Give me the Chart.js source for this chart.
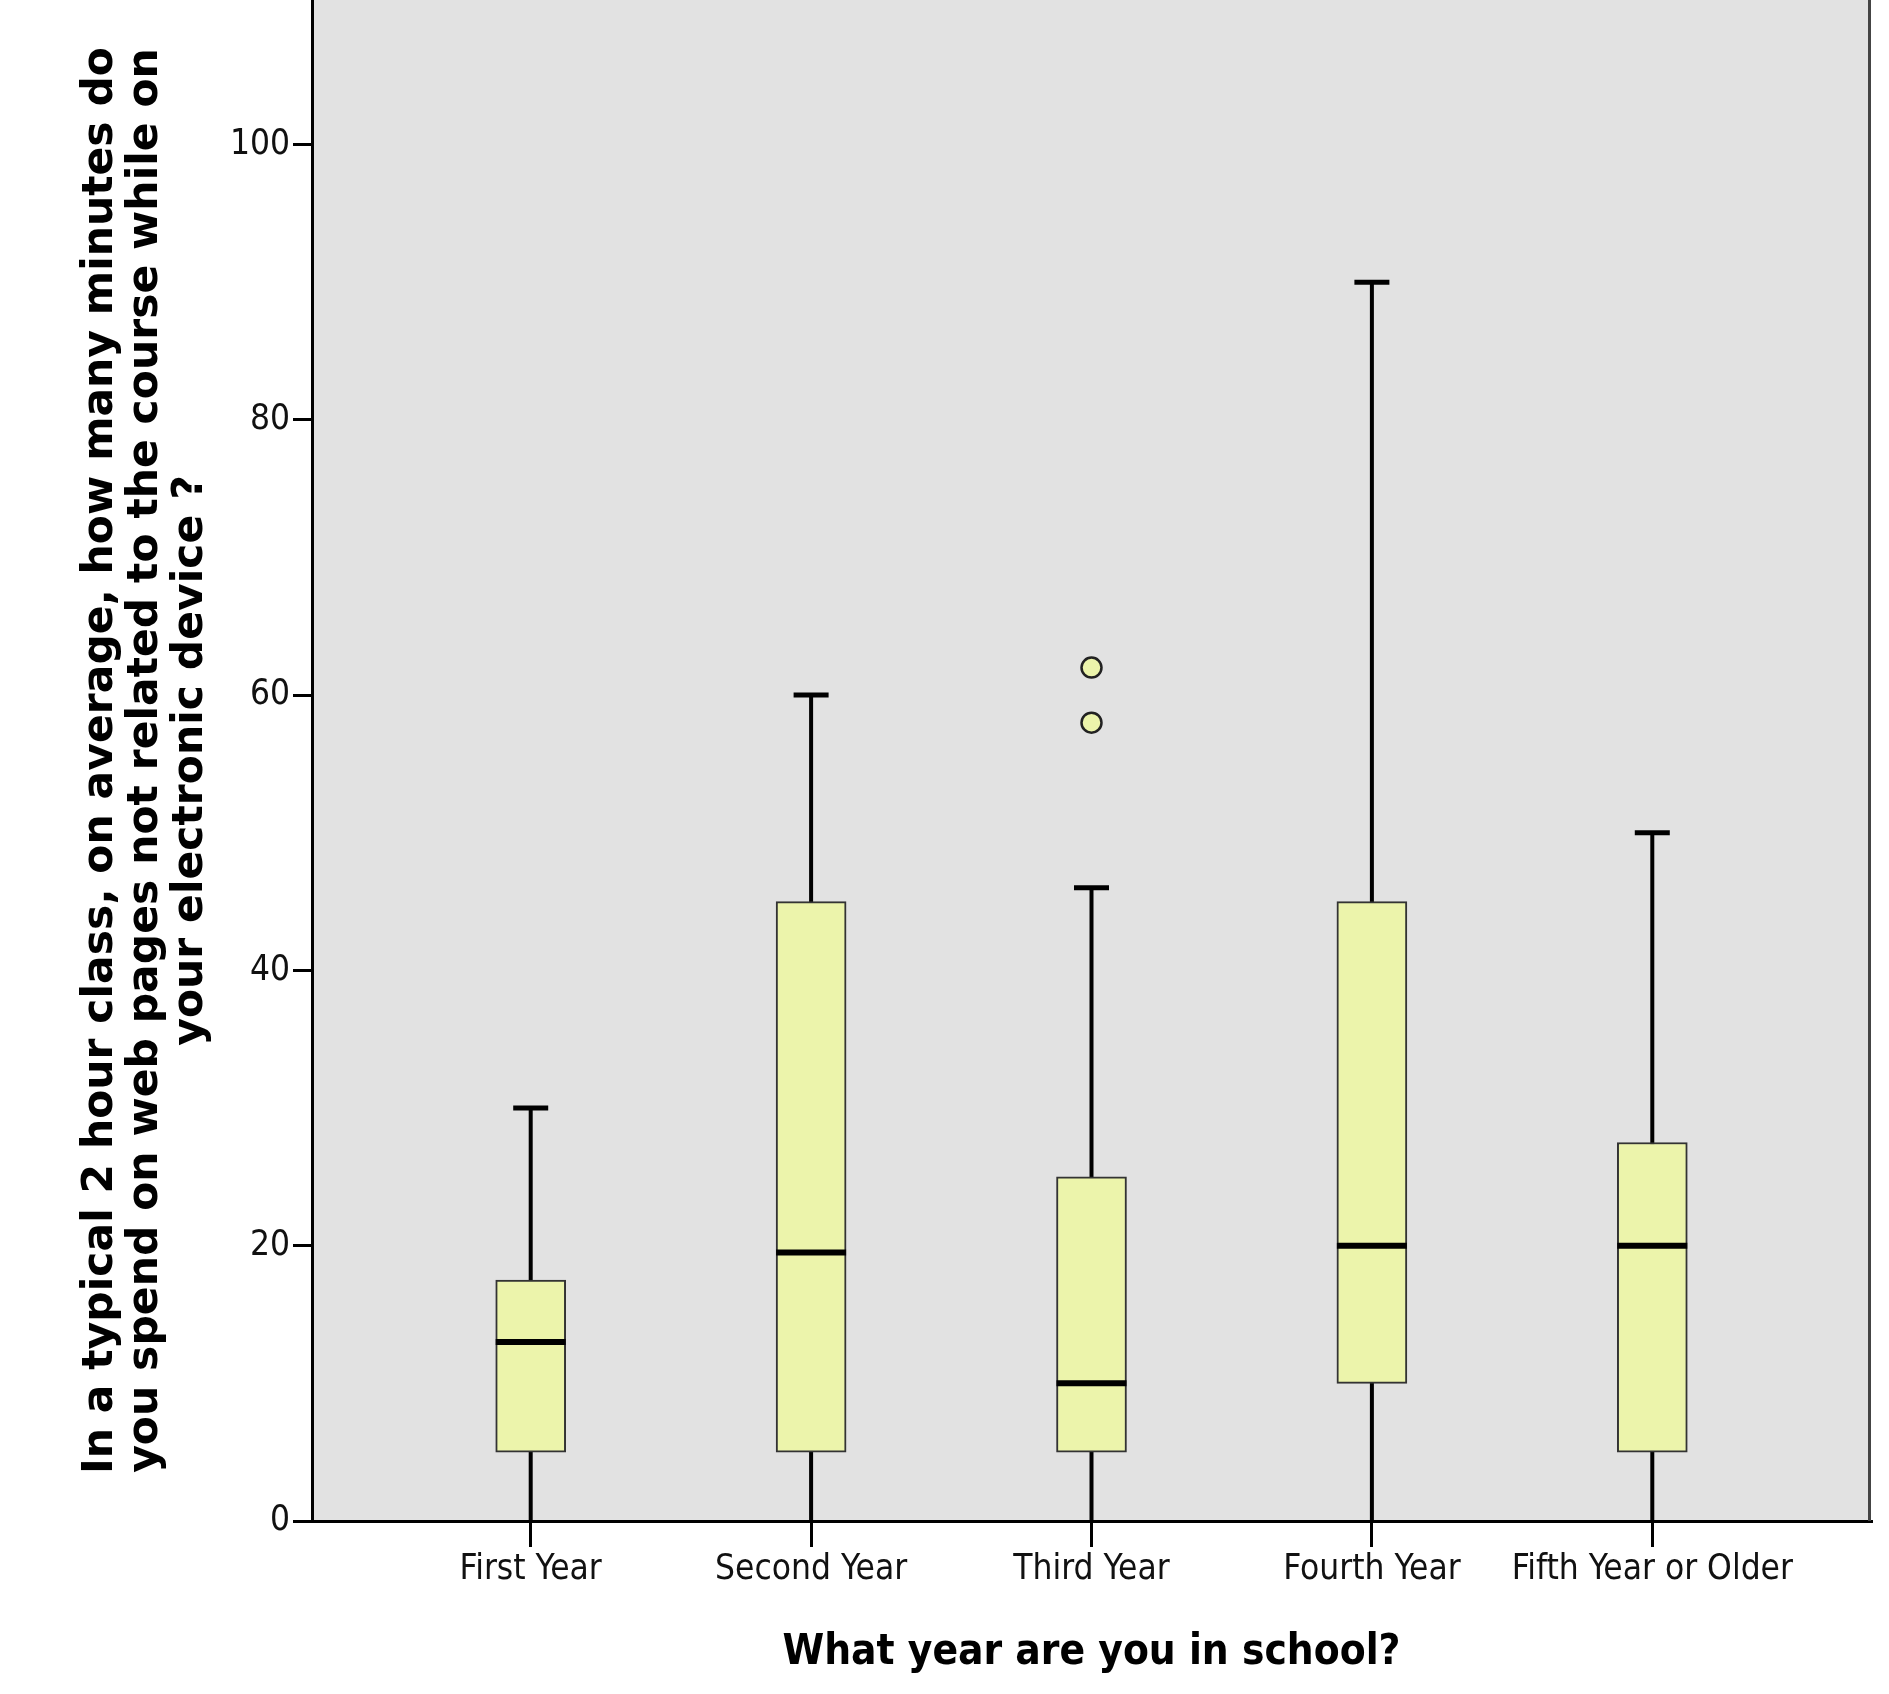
<!DOCTYPE html>
<html>
<head>
<meta charset="utf-8">
<script src="https://cdn.jsdelivr.net/npm/chart.js@4/dist/chart.umd.min.js"></script>
<style>
  html, body { margin: 0; padding: 0; background: #fff; }
  #wrap { width: 1889px; height: 1694px; }
</style>
</head>
<body>
<div id="wrap"><canvas id="boxChart"></canvas></div>
<script>
const years = ['First Year', 'Second Year', 'Third Year', 'Fourth Year', 'Fifth Year or Older'];
const whiskerLow = [0, 0, 0, 0, 0];
const quartile1 = [5, 5, 5, 10, 5];
const medians = [13, 19.5, 10, 20, 20];
const quartile3 = [17.5, 45, 25, 45, 27.5];
const whiskerHigh = [30, 60, 46, 90, 50];
const outliers = [{ x: 2, y: 58 }, { x: 2, y: 62 }];
const yTicks = [0, 20, 40, 60, 80, 100];

const boxFill = '#ecf4ab';
const narrow = "'Liberation Sans Narrow', 'DejaVu Sans Condensed', 'Arial Narrow', sans-serif";

const boxParts = {
    id: 'boxParts',
    beforeDraw(chart) {
        const { ctx, chartArea: a } = chart;
        ctx.save();
        ctx.fillStyle = '#e2e2e2';
        ctx.fillRect(a.left, a.top, a.right - a.left, a.bottom - a.top);
        ctx.restore();
    },
    beforeDatasetsDraw(chart) {
        const { ctx, scales: { x, y } } = chart;
        ctx.save();
        ctx.strokeStyle = '#000';
        ctx.lineWidth = 4;
        years.forEach((_, i) => {
            const px = x.getPixelForValue(i);
            ctx.beginPath();
            ctx.moveTo(px, y.getPixelForValue(whiskerLow[i]));
            ctx.lineTo(px, y.getPixelForValue(whiskerHigh[i]));
            ctx.stroke();
        });
        ctx.restore();
    },
    afterDatasetsDraw(chart) {
        const { ctx, scales: { x, y } } = chart;
        const bars = chart.getDatasetMeta(0).data;
        ctx.save();
        ctx.strokeStyle = '#000';
        years.forEach((_, i) => {
            const px = x.getPixelForValue(i);
            const half = bars[i].width / 2;
            ctx.lineWidth = 6;
            ctx.beginPath();
            ctx.moveTo(px - half, y.getPixelForValue(medians[i]));
            ctx.lineTo(px + half, y.getPixelForValue(medians[i]));
            ctx.stroke();
            ctx.lineWidth = 5;
            ctx.beginPath();
            ctx.moveTo(px - half / 2, y.getPixelForValue(whiskerHigh[i]));
            ctx.lineTo(px + half / 2, y.getPixelForValue(whiskerHigh[i]));
            ctx.stroke();
        });
        ctx.restore();
    },
    afterDraw(chart) {
        const { ctx, chartArea: a } = chart;
        ctx.save();
        ctx.strokeStyle = '#444';
        ctx.lineWidth = 3;
        ctx.beginPath();
        ctx.moveTo(a.right - 1.5, a.top);
        ctx.lineTo(a.right - 1.5, a.bottom);
        ctx.stroke();
        ctx.restore();
    }
};

const ctx = document.getElementById('boxChart').getContext('2d');
const boxChart = new Chart(ctx, {
    type: 'bar',
    data: {
        datasets: [{
            label: 'Box',
            data: years.map((_, i) => ({ x: i, y: [quartile1[i], quartile3[i]] })),
            backgroundColor: boxFill,
            borderColor: '#333',
            borderWidth: 2,
            borderSkipped: false,
            barThickness: 70
        }, {
            type: 'scatter',
            label: 'Outliers',
            data: outliers,
            pointRadius: 10,
            pointBackgroundColor: boxFill,
            pointBorderColor: '#222',
            pointBorderWidth: 2.5
        }]
    },
    options: {
        responsive: true,
        maintainAspectRatio: false,
        animation: false,
        layout: { autoPadding: false, padding: { left: 0, top: 0, right: 18, bottom: 0 } },
        plugins: {
            legend: { display: false },
            tooltip: { enabled: false }
        },
        scales: {
            x: {
                type: 'linear',
                offset: false,
                min: -0.78,
                max: 4.78,
                grid: { display: true, offset: false, drawOnChartArea: false, drawTicks: true, tickLength: 26, color: '#000', lineWidth: 3 },
                border: { color: '#000', width: 3 },
                ticks: {
                    font: { family: narrow, size: 35 },
                    color: '#111',
                    padding: 2,
                    autoSkip: false,
                    maxRotation: 0,
                    callback: (v) => years[v]
                },
                afterBuildTicks: (scale) => { scale.ticks = years.map((_, i) => ({ value: i })); },
                afterFit: (scale) => {
                    scale.height = 173;
                    scale.paddingLeft = 0;
                    scale.paddingRight = 0;
                },
                title: {
                    display: true,
                    text: 'What year are you in school?',
                    color: '#000',
                    font: { family: narrow, size: 42, weight: 'bold' },
                    padding: { top: 0, bottom: 16 }
                }
            },
            y: {
                min: 0,
                max: 110.5,
                grid: { display: true, drawOnChartArea: false, drawTicks: true, tickLength: 19, color: '#000', lineWidth: 3 },
                border: { color: '#000', width: 3 },
                ticks: {
                    stepSize: 20,
                    font: { family: narrow, size: 35 },
                    color: '#111',
                    padding: 3
                },
                afterBuildTicks: (scale) => { scale.ticks = yTicks.map(v => ({ value: v })); },
                afterFit: (scale) => {
                    scale.width = 312;
                    scale.paddingTop = 0;
                    scale.paddingBottom = 0;
                },
                title: {
                    display: true,
                    text: [
                        'In a typical 2 hour class, on average, how many minutes do',
                        'you spend on web pages not related to the course while on',
                        'your electronic device ?'
                    ],
                    color: '#000',
                    font: { family: "'DejaVu Sans', Verdana, sans-serif", size: 42.5, weight: 'bold', lineHeight: 1.06 },
                    padding: { top: 78, bottom: 0 }
                }
            }
        }
    },
    plugins: [boxParts]
});
</script>
</body>
</html>
